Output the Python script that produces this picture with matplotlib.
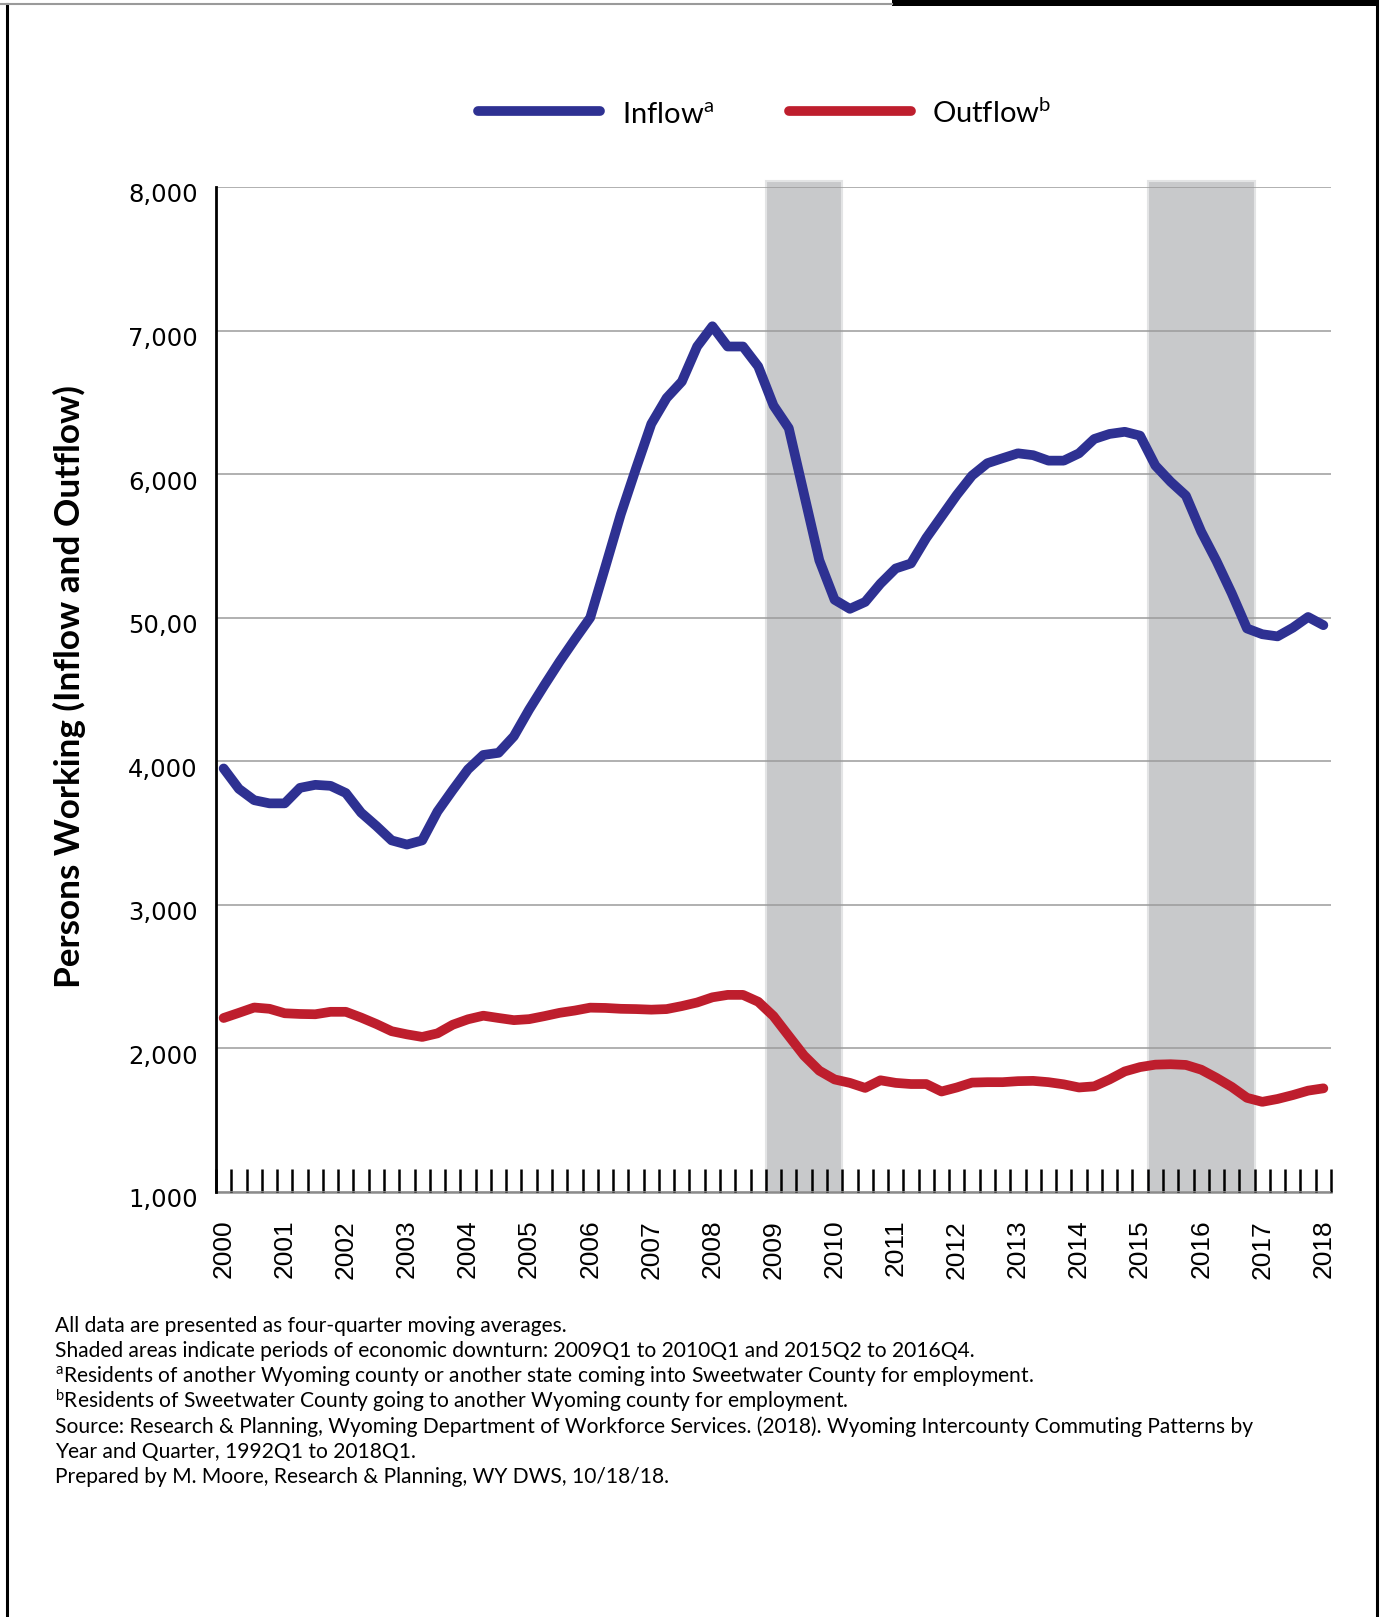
import numpy as np
import matplotlib
matplotlib.use("Agg")
import matplotlib.pyplot as plt
from matplotlib.lines import Line2D
from matplotlib.patches import Rectangle
import matplotlib.transforms as mtrans

# ---------------- data ----------------
years = [str(y) for y in range(2000, 2019)]
quarters = [f"{y}Q{q}" for y in range(2000, 2019) for q in range(1, 5)][:73]

inflow = [3950, 3808, 3729, 3707, 3707, 3815, 3836, 3829, 3779, 3642,
          3549, 3449, 3420, 3449, 3650, 3800, 3944, 4044, 4059, 4174,
          4360, 4530, 4695, 4850, 5000, 5358, 5720, 6040, 6350, 6530,
          6645, 6889, 7030, 6889, 6889, 6750, 6478, 6320, 5860, 5400,
          5125, 5062, 5110, 5237, 5343, 5378, 5555, 5705, 5855, 5990,
          6076, 6111, 6145, 6132, 6094, 6094, 6145, 6245, 6280, 6295,
          6268, 6060, 5947, 5850, 5600, 5395, 5170, 4925, 4885, 4870,
          4930, 5005, 4948]

outflow = [2212, 2248, 2285, 2276, 2245, 2240, 2238, 2255, 2255, 2215,
           2170, 2120, 2098, 2080, 2105, 2165, 2203, 2228, 2212, 2197,
           2204, 2225, 2248, 2264, 2284, 2282, 2276, 2274, 2270, 2274,
           2295, 2320, 2356, 2373, 2373, 2325, 2225, 2087, 1950, 1845,
           1784, 1760, 1725, 1778, 1760, 1752, 1752, 1700, 1728, 1762,
           1765, 1765, 1772, 1774, 1765, 1750, 1728, 1736, 1784, 1840,
           1870, 1887, 1890, 1885, 1852, 1795, 1732, 1656, 1628, 1648,
           1675, 1706, 1722]

downturns = [("2009Q1", "2010Q1"), ("2015Q2", "2016Q4")]

y_ticks = [1000, 2000, 3000, 4000, 5000, 6000, 7000, 8000]
y_tick_labels = ["1,000", "2,000", "3,000", "4,000", "50,00", "6,000", "7,000", "8,000"]

series_labels = [r"Inflow$^{\mathrm{a}}$", r"Outflow$^{\mathrm{b}}$"]
y_title = "Persons Working (Inflow and Outflow)"
notes = [
    "All data are presented as four-quarter moving averages.",
    "Shaded areas indicate periods of economic downturn: 2009Q1 to 2010Q1 and 2015Q2 to 2016Q4.",
    r"$^{\mathrm{a}}$Residents of another Wyoming county or another state coming into Sweetwater County for employment.",
    r"$^{\mathrm{b}}$Residents of Sweetwater County going to another Wyoming county for employment.",
    "Source: Research & Planning, Wyoming Department of Workforce Services. (2018). Wyoming Intercounty Commuting Patterns by",
    "Year and Quarter, 1992Q1 to 2018Q1.",
    "Prepared by M. Moore, Research & Planning, WY DWS, 10/18/18.",
]

BLUE = "#2E3192"
RED = "#BE1E2D"
SHADE = "#C8C9CB"

plt.rcParams["mathtext.fontset"] = "custom"
plt.rcParams["mathtext.rm"] = "Lato"
plt.rcParams["mathtext.it"] = "Lato:italic"
plt.rcParams["mathtext.bf"] = "Lato:bold"

W, H = 1383, 1617
fig = plt.figure(figsize=(W / 100, H / 100), dpi=100)
fig.patch.set_facecolor("white")

def fx(px):
    return px / W

def fy(py):
    return 1 - py / H

ax_left, ax_right, ax_top, ax_bot = 216, 1331, 187, 1192
ax = fig.add_axes([fx(ax_left), fy(ax_bot), (ax_right - ax_left) / W, (ax_bot - ax_top) / H])

x = np.arange(len(quarters))
ax.set_xlim(-0.5, len(quarters) - 0.5)
ax.set_ylim(1000, 8000)

# shaded downturns
for s, e in downturns:
    i0, i1 = quarters.index(s), quarters.index(e)
    ax.add_patch(Rectangle((i0 - 0.5, 1000), i1 - i0 + 1, 7045, facecolor=SHADE,
                           edgecolor="#E3E4E5", lw=1.5, clip_on=False, zorder=0.5))

# grid
ax.set_yticks(y_ticks)
ax.set_yticklabels(y_tick_labels)
ax.yaxis.grid(True, color="#9B9B9B", lw=1.1, zorder=1)
ax.set_axisbelow(False)
for gl in ax.get_ygridlines():
    gl.set_zorder(1)

ax.plot(x, inflow, color=BLUE, lw=7, solid_capstyle="round", solid_joinstyle="round", zorder=3)
ax.plot(x, outflow, color=RED, lw=7, solid_capstyle="round", solid_joinstyle="round", zorder=3)

# spines
for s in ["top", "right"]:
    ax.spines[s].set_visible(False)
ax.spines["left"].set_color("black")
ax.spines["left"].set_linewidth(2.0)
ax.spines["bottom"].set_color("#8C8C8C")
ax.spines["bottom"].set_linewidth(1.8)
ax.spines["left"].set_zorder(4)

# x ticks: major at category boundaries, minor (labels) at year Q1
ax.set_xticks(np.arange(-0.5, len(quarters), 1.0))
ax.set_xticklabels([])
ax.tick_params(axis="x", which="major", direction="in", length=16.5, width=1.8, color="black")
year_idx = [quarters.index(f"{y}Q1") for y in years]
ax.set_xticks(year_idx, minor=True)
ax.set_xticklabels(years, minor=True, rotation=90, fontsize=19, family="Liberation Sans")
ax.tick_params(axis="x", which="minor", length=0, pad=20)

ax.tick_params(axis="y", length=0, pad=13, labelsize=17.5)
for lab in ax.get_yticklabels():
    lab.set_family("DejaVu Sans")
    lab.set_transform(lab.get_transform() + mtrans.ScaledTranslation(0, -6 / 100, fig.dpi_scale_trans))

# y title
ytxt = fig.text(fx(69), fy(687), y_title, rotation=90, ha="center", va="center",
                fontsize=22, fontweight="bold", family="Lato")

# legend (manual)
leg_y = fy(111)
fig.add_artist(Line2D([fx(478), fx(600)], [leg_y, leg_y], color=BLUE, lw=7, solid_capstyle="round"))
fig.add_artist(Line2D([fx(789), fx(911)], [leg_y, leg_y], color=RED, lw=7, solid_capstyle="round"))
t1 = fig.text(fx(622), fy(123), series_labels[0], fontsize=21, family="Lato", va="baseline", ha="left")
t2 = fig.text(fx(932), fy(123), series_labels[1], fontsize=21, family="Lato", va="baseline", ha="left")

# notes
note_texts = []
for k, line in enumerate(notes):
    note_texts.append(fig.text(fx(55), fy(1332 + 25.2 * k), line, fontsize=15, family="Lato",
                               va="baseline", ha="left"))

# fit font sizes to measured widths
fig.canvas.draw()
r = fig.canvas.get_renderer()
bb = note_texts[1].get_window_extent(r)
scale = 923 / bb.width
for t in note_texts:
    t.set_fontsize(15 * scale)
bb = ytxt.get_window_extent(r)
ytxt.set_fontsize(22 * 601 / bb.height)

# frame
fig.add_artist(Line2D([fx(6.5), fx(6.5)], [0, fy(4)], color="black", lw=2.2))
fig.add_artist(Line2D([fx(1377), fx(1377)], [0, 1], color="black", lw=2.2))
fig.add_artist(Line2D([0, fx(892)], [fy(4.5), fy(4.5)], color="#9A9A9A", lw=1.5))
fig.add_artist(Rectangle((fx(892), fy(6)), fx(1378) - fx(892), 6 / H, transform=fig.transFigure,
                         facecolor="black", edgecolor="none"))

fig.savefig("out.png", dpi=100, facecolor="white")
